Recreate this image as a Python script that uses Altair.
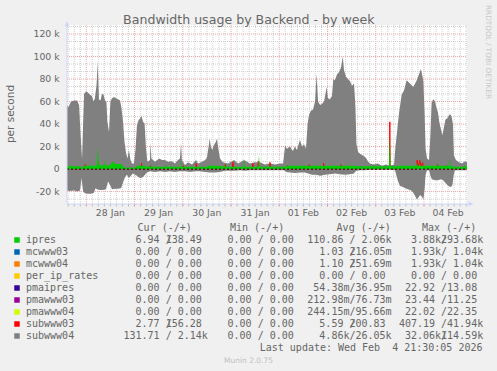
import altair as alt
import pandas as pd

NB = "\u00a0"

# ---------------- texts ----------------
title_text = "Bandwidth usage by Backend - by week"
y_title_text = "per second"
watermark_text = "RRDTOOL / TOBI OETIKER"
footer_text = "Munin 2.0.75"
last_update_text = "Last update: Wed Feb" + NB + NB + "4 21:30:05 2026"

# ---------------- axes ----------------
day_labels = ["28 Jan", "29 Jan", "30 Jan", "31 Jan", "01 Feb", "02 Feb", "03 Feb", "04 Feb"]
day_label_hours = [12, 36, 60, 84, 108, 132, 156, 180]   # noon, hours since 28 Jan 00:00
y_tick_k = [-20, 0, 20, 40, 60, 80, 100, 120]
y_tick_labels = ["-20 k", "0", "20 k", "40 k", "60 k", "80 k", "100 k", "120 k"]

# ---------------- series (hours since 28 Jan 00:00, value in k/s) ----------------
# subwww04 out (+)
gray_pos_hours = [-9.6, -8.9, -7.6, -6.1, -4.6, -3.6, -2.9, -2.1, -1.6, -1.1, -0.1, 0.8, 1.8, 2.8, 3.6, 4.3,
                  5.1, 5.7, 6.3, 7.1, 7.8, 8.6, 9.3, 10.0, 10.5, 11.3, 12.0, 12.8, 13.8, 14.8, 15.8, 16.8,
                  17.5, 18.3, 19.0, 19.8, 20.5, 21.2, 22.0, 22.7, 23.7, 24.5, 25.2, 26.0, 26.7, 27.5, 28.2,
                  29.0, 29.7, 30.4, 31.7, 31.9, 32.4, 34.2, 36.2, 37.7, 39.2, 40.6, 42.6, 44.1, 45.6, 46.6,
                  47.1, 47.6, 49.1, 50.6, 52.6, 54.6, 55.6, 57.6, 59.1, 60.0, 60.7, 61.4, 62.0, 62.7, 63.4,
                  64.4, 65.0, 65.7, 66.5, 68.0, 70.5, 73.5, 75.5, 78.5, 81.4, 83.9, 86.4, 88.9, 91.4, 93.9,
                  96.4, 97.9, 98.9, 99.8, 101.3, 102.8, 103.8, 104.8, 106.3, 107.3, 108.3, 109.3, 110.1,
                  110.8, 111.8, 112.8, 113.8, 114.6, 115.3, 116.3, 117.3, 118.3, 119.6, 120.2, 121.2, 122.2,
                  122.9, 123.7, 124.7, 125.7, 126.7, 127.6, 128.2, 129.2, 130.2, 131.2, 132.2, 133.2, 133.9,
                  134.4, 135.3, 136.7, 137.7, 139.1, 140.1, 141.1, 143.1, 145.1, 147.1, 149.1, 151.1, 153.1,
                  153.8, 154.6, 155.6, 156.9, 158.1, 159.4, 161.0, 162.7, 164.4, 165.5, 166.5, 167.7, 168.3,
                  168.8, 169.5, 170.5, 171.2, 171.8, 172.6, 173.5, 174.3, 175.0, 175.6, 176.5, 177.2, 178.0,
                  178.7, 179.5, 180.2, 180.9, 181.7, 182.4, 182.9, 183.9, 185.4, 186.9, 188.4, 189.4]
gray_pos_k = [57, 55, 60, 61, 61, 57, 33, 9, 40, 67, 69, 68, 66, 65, 60, 63,
              75, 95, 62, 61, 67, 66, 61, 60, 42, 33, 60, 63, 64, 63, 62, 61,
              54, 42, 24, 14, 9.5, 17, 8, 5, 5, 18, 39, 43.5, 45, 47, 42,
              40.5, 18, 6.5, 8, 24, 9.5, 6.5, 9.5, 8, 8, 6.5, 7, 5, 8, 9.5,
              23, 8, 3.6, 6, 4, 8, 5, 6.5, 8, 10, 18, 27, 19.6, 17, 21,
              24, 27, 18, 9.5, 6, 5, 8, 5, 8, 5, 6, 6, 4, 5, 4,
              5, 5, 21, 18, 20, 16, 20, 17, 26, 20, 22, 18, 40,
              48, 52, 53, 60, 85, 60, 57, 58, 60, 73, 63, 62, 65,
              80, 79, 84, 86, 90, 100, 88, 82, 80, 78, 74, 76, 55,
              22, 15, 13, 12, 10, 7, 5, 4, 5, 3, 4, 3, 4,
              20, 33, 50, 66, 70, 79, 76, 73, 79, 84, 89, 78, 50,
              18, 9.5, 8, 30, 59, 62, 60, 54, 50, 42, 35, 30, 38,
              44, 45, 47, 49, 47, 40, 12, 8, 6, 5, 7, 6]

# subwww04 in (-)
gray_neg_hours = [-9.6, -8.1, -6.1, -4.6, -3.1, -2.4, -1.6, -0.6, 0.8, 2.3, 3.8, 4.6, 5.3, 6.8, 8.3, 9.8,
                  10.8, 11.8, 12.8, 14.3, 15.8, 17.3, 18.3, 19.3, 20.2, 21.2, 22.2, 23.2, 24.2, 25.2, 26.2,
                  27.2, 28.2, 29.2, 30.2, 31.7, 34.2, 36.7, 39.2, 41.6, 44.1, 46.6, 49.1, 51.6, 54.1, 56.6,
                  59.1, 61.5, 64.0, 66.5, 69.0, 71.5, 74.0, 76.5, 79.0, 81.4, 83.9, 86.4, 88.9, 91.4, 93.9,
                  96.4, 98.4, 99.4, 101.3, 103.8, 106.3, 108.8, 110.3, 112.3, 114.3, 116.3, 118.8, 121.2,
                  123.7, 126.2, 128.7, 131.2, 133.2, 134.2, 136.2, 138.7, 141.1, 146.1, 151.1, 153.6, 154.3,
                  155.1, 156.1, 157.6, 158.6, 160.1, 161.6, 162.7, 163.6, 164.4, 165.3, 166.1, 167.1, 167.7,
                  168.3, 168.8, 169.5, 170.5, 171.2, 171.9, 173.5, 175.0, 176.5, 177.5, 178.5, 179.5, 180.5,
                  181.5, 182.2, 182.7, 183.4, 185.9, 189.4]
gray_neg_k = [-19, -19.5, -19, -20, -19, -8, -20, -21.5, -22, -22, -21, -17, -18, -18.5, -18.5, -18,
              -11, -14, -18, -17.5, -17.5, -17, -12, -7, -5, -8, -6, -4, -5, -6, -7.5,
              -8, -7, -5, -3, -2, -2.5, -2, -2.5, -2, -2.5, -2, -2, -2.5, -2, -2,
              -2.5, -3, -3, -2.5, -1.5, -1.5, -1.5, -1, -1.5, -1, -1, -1, -1, -1, -1,
              -1, -1, -2.5, -3, -3.5, -3, -3, -4, -5, -5, -6, -5, -4.5,
              -4, -4.5, -5, -4.5, -4, -1.5, -1, -1, -0.5, -0.5, -0.5, -1, -6,
              -11, -15, -16, -17, -18, -19, -21, -24, -27, -25, -23, -25, -27,
              -18, -5, -1, -1, -6, -9, -10, -10, -9, -10, -12, -14, -15.5,
              -16, -14, -6, -1, -1, -1]

# ipres out (+)
green_hours = [-9.6, -3.0, -2.1, -1.1, 5.2, 5.5, 5.7, 5.9, 6.3, 8.9, 9.2, 9.5, 10.5, 12.5, 13.3, 14.0,
               17.5, 18.5, 24.5, 25.2, 29.7, 30.4, 32.1, 32.4, 32.7, 39.6, 39.9, 40.2, 46.8, 47.1, 47.4,
               60.0, 61.0, 65.0, 68.5, 68.8, 69.1, 78.2, 78.5, 78.8, 85.6, 85.9, 86.2, 91.1, 91.4, 91.7,
               98.9, 99.4, 134.0, 134.6, 142.8, 143.1, 143.4, 150.6, 151.0, 151.4, 154.0, 155.0, 164.1,
               164.4, 164.7, 174.0, 174.3, 174.6, 180.6, 180.9, 181.2, 183.0, 188.0, 188.4, 188.8, 189.4]
green_k = [2.5, 2.5, 1.0, 3.0, 3.0, 12, 20, 12, 3.5, 3.5, 9, 3.5, 3.0, 4.5, 7, 4.5,
           4.5, 1.5, 1.5, 3.0, 3.0, 2.0, 2.0, 5, 2.0, 2.0, 4, 2.0, 2.0, 8, 2.0,
           2.0, 3.0, 3.0, 2.0, 5, 2.0, 2.0, 9, 2.0, 2.0, 12.7, 2.0, 2.0, 4, 2.0,
           2.0, 3.0, 3.0, 2.5, 2.5, 5, 2.5, 2.5, 30, 2.5, 2.5, 3.0, 3.0,
           6, 3.0, 3.0, 5, 3.0, 3.0, 10, 3.0, 2.0, 2.0, 4, 2.0, 2.0]

# subwww03 out (+)
red_hours = [-9.6, -0.9, -0.6, -0.3, 5.6, 5.9, 6.2, 16.1, 16.4, 16.7, 27.2, 27.5, 27.8, 31.7, 32.0, 32.3,
             48.0, 48.3, 48.6, 54.4, 54.7, 55.0, 68.8, 69.1, 69.4, 72.7, 73.0, 73.3, 82.6, 82.9, 83.2,
             85.3, 85.6, 85.9, 91.1, 91.4, 91.7, 99.8, 100.1, 100.4, 110.6, 110.9, 111.2, 117.8, 118.1,
             118.4, 126.3, 126.6, 126.9, 150.8, 151.0, 151.2, 164.3, 164.6, 165.2, 165.9, 166.6, 167.3,
             167.8, 174.5, 174.8, 175.1, 179.2, 179.5, 179.8, 189.4]
red_k = [0.3, 0.3, 4, 0.3, 0.3, 6, 0.3, 0.3, 4, 0.3, 0.3, 5, 0.3, 0.3, 3, 0.3,
         0.3, 3, 0.3, 0.3, 5, 0.3, 0.3, 4, 0.3, 0.3, 6, 0.3, 0.3, 5, 0.3,
         0.3, 7, 0.3, 0.3, 6, 0.3, 0.3, 3, 0.3, 0.3, 4, 0.3, 0.3, 5,
         0.3, 0.3, 4, 0.3, 0.3, 42, 0.3, 0.3, 8, 2, 7.6, 2, 5.7,
         0.3, 0.3, 4, 0.3, 0.3, 3, 0.3, 0.3]

# ---------------- legend ----------------
legend_names = ["ipres", "mcwww03", "mcwww04", "per_ip_rates", "pmaipres", "pmawww03", "pmawww04",
                "subwww03", "subwww04"]
legend_colors = ["#00CC00", "#0066B3", "#FF8000", "#FFCC00", "#330099", "#990099", "#CCFF00",
                 "#FF0000", "#808080"]
legend_headers = ["Cur (-/+)", "Min (-/+)", "Avg (-/+)", "Max (-/+)"]
cur_in = ["6.94", "0.00", "0.00", "0.00", "0.00", "0.00", "0.00", "2.77", "131.71"]
cur_out = ["138.49", "0.00", "0.00", "0.00", "0.00", "0.00", "0.00", "156.28", "2.14k"]
min_in = ["0.00", "0.00", "0.00", "0.00", "0.00", "0.00", "0.00", "0.00", "0.00"]
min_out = ["0.00", "0.00", "0.00", "0.00", "0.00", "0.00", "0.00", "0.00", "0.00"]
avg_in = ["110.86", "1.03", "1.10", "0.00", "54.38m", "212.98m", "244.15m", "5.59", "4.86k"]
avg_out = ["2.06k", "216.05m", "251.69m", "0.00", "36.95m", "76.73m", "95.66m", "200.83", "26.05k"]
max_in = ["3.88k", "1.93k", "1.93k", "0.00", "22.92", "23.44", "22.02", "407.19", "32.06k"]
max_out = ["293.68k", "1.04k", "1.04k", "0.00", "13.08", "11.25", "22.35", "41.94k", "114.59k"]

# ---------------- layout / style ----------------
PL, PT, W, H = 67, 25, 400, 179
FONT = "DejaVu Sans"
MONO = "DejaVu Sans Mono"
TXT = "#666666"
AXIS = "#CFD6F8"
GRID = "#cfcfcf"
MGRID = "#f2a2a2"
CW = 6.02  # monospace advance at 10px

xs = alt.Scale(domain=[-9.6, 189.4], nice=False, zero=False)
ys = alt.Scale(domain=[-31, 128], nice=False, zero=False)


def X(f="h"):
    return alt.X(f + ":Q", scale=xs, axis=None)


def Y(f="k"):
    return alt.Y(f + ":Q", scale=ys, axis=None)


# grid
minor_x_hours = [h for h in range(-9, 190, 3) if h % 24 != 0]
major_x_hours = list(range(0, 169, 24))
minor_y_k = [m + d for m in range(-40, 121, 20) for d in (20 / 3, 40 / 3) if -31 < m + d < 128]
major_y_k = [v for v in y_tick_k if v != 0]

vminor = alt.Chart(pd.DataFrame({"h": minor_x_hours})).mark_rule(
    color=GRID, strokeDash=[1, 1], strokeWidth=1).encode(x=X(), y=alt.value(0), y2=alt.value(H))
vmajor = alt.Chart(pd.DataFrame({"h": major_x_hours})).mark_rule(
    color=MGRID, strokeDash=[1, 1], strokeWidth=1).encode(x=X(), y=alt.value(0), y2=alt.value(H))
tminor = alt.Chart(pd.DataFrame({"h": minor_x_hours})).mark_rule(
    color="#bbbbbb", strokeWidth=1).encode(x=X(), y=alt.value(H), y2=alt.value(H + 2.5))
tmajor = alt.Chart(pd.DataFrame({"h": major_x_hours})).mark_rule(
    color="#e88888", strokeWidth=1).encode(x=X(), y=alt.value(H), y2=alt.value(H + 2.5))
hminor = alt.Chart(pd.DataFrame({"k": minor_y_k})).mark_rule(
    color=GRID, strokeDash=[1, 1], strokeWidth=1).encode(y=Y(), x=alt.value(0), x2=alt.value(W))
hmajor = alt.Chart(pd.DataFrame({"k": major_y_k})).mark_rule(
    color=MGRID, strokeDash=[1, 1], strokeWidth=1).encode(y=Y(), x=alt.value(0), x2=alt.value(W))

# series
pos_df = pd.DataFrame({"h": gray_pos_hours, "k": gray_pos_k})
pos_df["z"] = 0.0
neg_df = pd.DataFrame({"h": gray_neg_hours, "k": gray_neg_k})
neg_df["z"] = 0.0
green_df = pd.DataFrame({"h": green_hours, "k": green_k})
green_df["z"] = 0.0
red_df = pd.DataFrame({"h": red_hours, "k": red_k})

gray_pos = alt.Chart(pos_df).mark_area(color="#808080", interpolate="linear").encode(
    x=X(), y=Y(), y2="z:Q")
gray_neg = alt.Chart(neg_df).mark_area(color="#808080", interpolate="linear").encode(
    x=X(), y=Y(), y2="z:Q")
red = alt.Chart(red_df).mark_line(color="#FF0000", strokeWidth=1, interpolate="linear").encode(
    x=X(), y=Y())
green = alt.Chart(green_df).mark_area(color="#00CC00", interpolate="linear").encode(
    x=X(), y=Y(), y2="z:Q")
zero_line = alt.Chart(pd.DataFrame({"k": [0]})).mark_rule(
    color="#000000", strokeDash=[2, 2], strokeWidth=1).encode(y=Y(), x=alt.value(0), x2=alt.value(W))

one = pd.DataFrame({"a": [0]})
yaxis_line = alt.Chart(one).mark_rule(color=AXIS, strokeWidth=1).encode(
    x=alt.value(0), y=alt.value(H), y2=alt.value(-1))
xaxis_line = alt.Chart(one).mark_rule(color=AXIS, strokeWidth=1).encode(
    y=alt.value(H), x=alt.value(0), x2=alt.value(W + 1))
arrow_up = alt.Chart(one).mark_point(shape="M-1,1L0,-1L1,1Z", filled=True, size=25, color=AXIS,
                                     opacity=1).encode(x=alt.value(0), y=alt.value(-1.2))
arrow_right = alt.Chart(one).mark_point(shape="M-1,-1L1,0L-1,1Z", filled=True, size=25, color=AXIS,
                                        opacity=1).encode(x=alt.value(W + 3.8), y=alt.value(H))

# axis labels
ylab = alt.Chart(pd.DataFrame({"k": y_tick_k, "t": y_tick_labels})).mark_text(
    font=FONT, fontSize=9.3, color=TXT, align="right", baseline="middle").encode(
    y=Y(), x=alt.value(59.6 - PL), text="t:N")
xlab = alt.Chart(pd.DataFrame({"h": day_label_hours, "t": day_labels})).mark_text(
    font=FONT, fontSize=9.3, color=TXT, align="center", baseline="alphabetic").encode(
    x=X(), y=alt.value(216.2 - PT), text="t:N")

title = alt.Chart(pd.DataFrame({"t": [title_text]})).mark_text(
    font=FONT, fontSize=12.6, color=TXT, align="center", baseline="alphabetic").encode(
    x=alt.value(248.8 - PL), y=alt.value(24 - PT), text="t:N")
ytitle = alt.Chart(pd.DataFrame({"t": [y_title_text]})).mark_text(
    font=FONT, fontSize=10.5, color=TXT, align="center", baseline="middle", angle=270).encode(
    x=alt.value(10.5 - PL), y=alt.value(114 - PT), text="t:N")
watermark = alt.Chart(pd.DataFrame({"t": [watermark_text]})).mark_text(
    font=FONT, fontSize=7.3, color="#c8c8c8", align="left", baseline="middle", angle=90).encode(
    x=alt.value(488 - PL), y=alt.value(5 - PT), text="t:N")
footer = alt.Chart(pd.DataFrame({"t": [footer_text]})).mark_text(
    font=FONT, fontSize=7.5, color="#c0c0c0", align="center", baseline="alphabetic").encode(
    x=alt.value(248.5 - PL), y=alt.value(362.7 - PT), text="t:N")

# legend table (monospace cells); each field = in value, "/", out value
ROW0, ROWH = 243.3, 12
NAME_X = 26
COL_X = [123.5, 215.5, 307.3, 398.9]
HEAD_X = [137.6, 230.0, 336.6, 422.0]
HEAD_Y = 231.3


def cell(v):
    if v[-1].isalpha():
        return v[:-1].rjust(6) + v[-1]
    return v.rjust(6) + " "


def place(rows, x0, y, s):
    lead = len(s) - len(s.lstrip(" "))
    t = s.strip(" ")
    if t:
        rows.append({"px": x0 + lead * CW - PL, "py": y - PT, "t": t.replace(" ", NB)})


rows = []
for j, hd in enumerate(legend_headers):
    rows.append({"px": HEAD_X[j] - PL, "py": HEAD_Y - PT, "t": hd.replace(" ", NB)})
sq = []
pairs = [(cur_in, cur_out), (min_in, min_out), (avg_in, avg_out), (max_in, max_out)]
for i, name in enumerate(legend_names):
    base = ROW0 + i * ROWH
    rows.append({"px": NAME_X - PL, "py": base - PT, "t": name})
    for j, (a, b) in enumerate(pairs):
        place(rows, COL_X[j], base, cell(a[i]))
        rows.append({"px": COL_X[j] + 7 * CW - PL, "py": base - PT, "t": "/"})
        place(rows, COL_X[j] + 7 * CW, base, cell(b[i]))
    sq.append({"px": 17 - PL, "py": base - 3.3 - PT, "c": legend_colors[i]})

legend_text = alt.Chart(pd.DataFrame(rows)).mark_text(
    font=MONO, fontSize=10, color=TXT, align="left", baseline="alphabetic").encode(
    x=alt.X("px:Q", scale=None, axis=None), y=alt.Y("py:Q", scale=None, axis=None), text="t:N")
legend_sq = alt.Chart(pd.DataFrame(sq)).mark_square(size=30, opacity=1, filled=True).encode(
    x=alt.X("px:Q", scale=None, axis=None), y=alt.Y("py:Q", scale=None, axis=None),
    color=alt.Color("c:N", scale=None, legend=None))
last_update = alt.Chart(pd.DataFrame({"t": [last_update_text]})).mark_text(
    font=MONO, fontSize=10, color=TXT, align="right", baseline="alphabetic").encode(
    x=alt.value(482.5 - PL), y=alt.value(351.3 - PT), text="t:N")

chart = alt.layer(
    vminor, vmajor, hminor, hmajor, tminor, tmajor,
    gray_pos, gray_neg, red, green, zero_line,
    yaxis_line, xaxis_line, arrow_up, arrow_right,
    ylab, xlab, title, ytitle, watermark, footer,
    legend_sq, legend_text, last_update,
).properties(
    width=W, height=H,
    padding={"left": PL, "top": PT, "right": 497 - PL - W, "bottom": 371 - PT - H},
    autosize=alt.AutoSizeParams(type="none"),
).configure(background="#f0f0f0").configure_view(fill="white", stroke=None)

chart.save("out.html", embed_options={"renderer": "svg", "actions": False})
